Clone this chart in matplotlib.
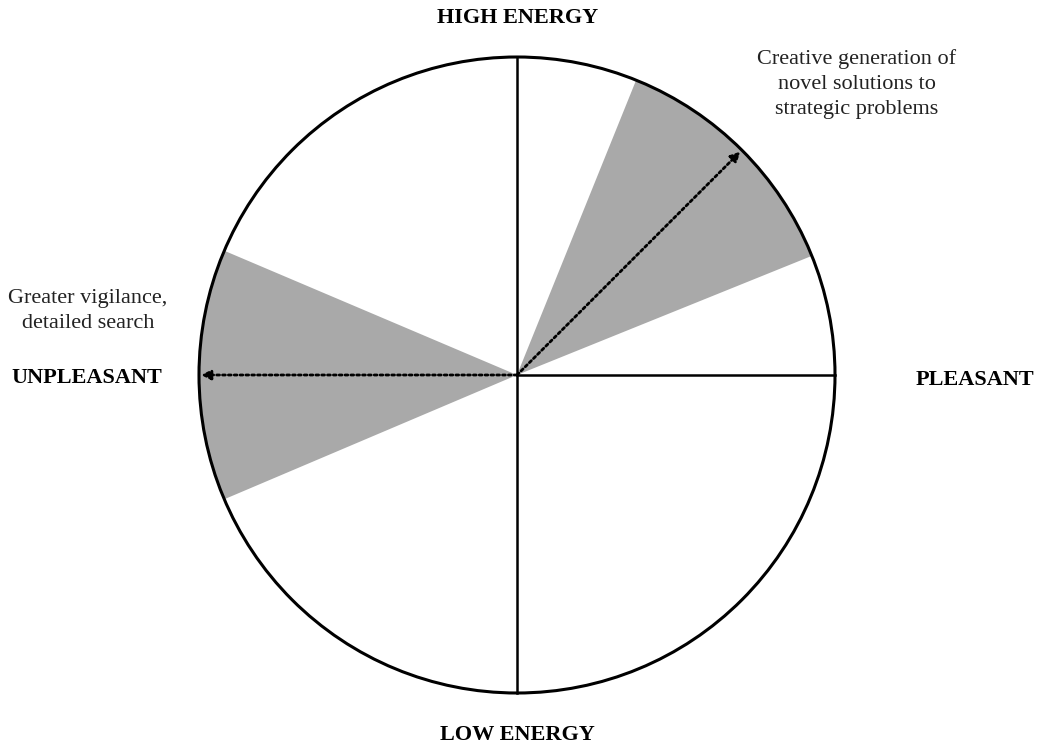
import numpy as np
import matplotlib.pyplot as plt
from matplotlib.patches import Wedge, Circle

plt.rcParams['font.family'] = ['Liberation Serif', 'DejaVu Serif']

# shaded sectors (degrees, counter-clockwise from "pleasant")
wedge_starts = [22, 157]
wedge_ends = [68, 203]
# arrows pointing from centre to rim
arrow_angles = [45, 180]

axis_labels = ['HIGH ENERGY', 'LOW ENERGY', 'PLEASANT', 'UNPLEASANT']
notes = ['Creative generation of\nnovel solutions to\nstrategic problems',
         'Greater vigilance,\ndetailed search']

cx, cy, r = 517, 375, 318

fig = plt.figure(figsize=(10.4, 7.51), dpi=100)
ax = fig.add_axes([0, 0, 1, 1])
ax.set_xlim(0, 1040)
ax.set_ylim(751, 0)
ax.axis('off')

for a0, a1 in zip(wedge_starts, wedge_ends):
    # y axis is flipped, so negate the angles
    ax.add_patch(Wedge((cx, cy), r, -a1, -a0, facecolor='#a9a9a9', edgecolor='none'))

ax.add_patch(Circle((cx, cy), r, fill=False, edgecolor='black', lw=2.2))
ax.plot([cx, cx], [cy - r, cy + r], color='black', lw=1.8)
ax.plot([cx, cx + r], [cy, cy], color='black', lw=1.8)

for ang in arrow_angles:
    t = np.deg2rad(ang)
    ex, ey = cx + (r - 2) * np.cos(t), cy - (r - 2) * np.sin(t)
    ax.annotate('', xy=(ex, ey), xytext=(cx, cy),
                arrowprops=dict(arrowstyle='-|>', color='black', lw=2,
                                linestyle=(0, (1, 1.1)), mutation_scale=14,
                                shrinkA=0, shrinkB=0))

ax.text(518, 18, axis_labels[0], ha='center', va='center', fontsize=16, fontweight='bold')
ax.text(517, 735, axis_labels[1], ha='center', va='center', fontsize=16, fontweight='bold')
ax.text(975, 380, axis_labels[2], ha='center', va='center', fontsize=16, fontweight='bold')
ax.text(87, 378, axis_labels[3], ha='center', va='center', fontsize=16, fontweight='bold')

ax.text(857, 84, notes[0], ha='center', va='center', fontsize=16, linespacing=1.45, color='#222222')
ax.text(88, 311, notes[1], ha='center', va='center', fontsize=16, linespacing=1.4, color='#222222')

fig.savefig('out.png', dpi=100)
